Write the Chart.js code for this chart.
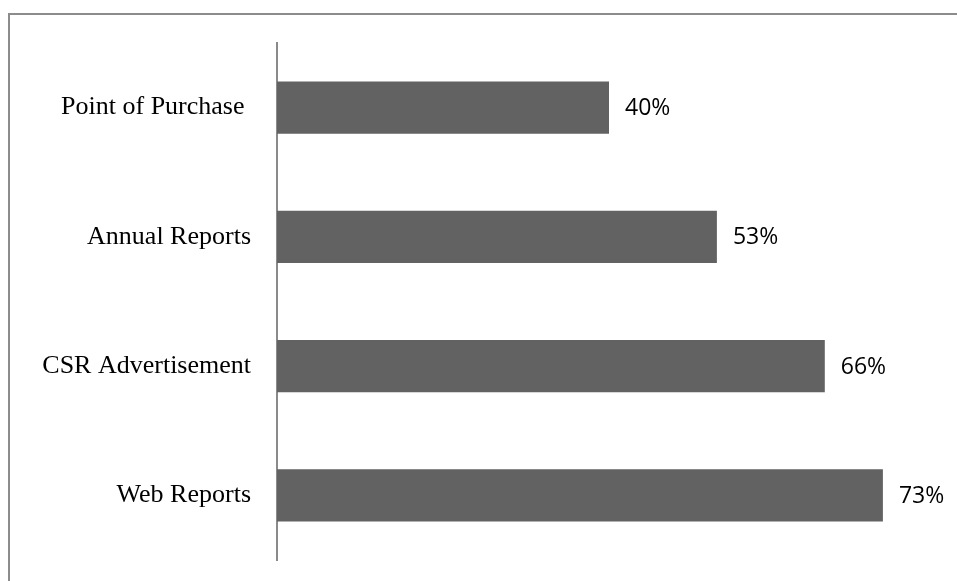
<!DOCTYPE html>
<html>
<head>
<meta charset="utf-8">
<script src="https://cdn.jsdelivr.net/npm/chart.js@4/dist/chart.umd.min.js"></script>
<style>
  html, body { margin: 0; padding: 0; background: #fff; }
  #wrap { width: 957px; height: 581px; }
</style>
</head>
<body>
<div id="wrap"><canvas id="barChart"></canvas></div>
<script>
const categories = ["Point of Purchase ", "Annual Reports", "CSR Advertisement", "Web Reports"];
const values = [40, 53, 66, 73];

// frame around the chart + value labels at bar ends
const framePlugin = {
  id: "frame",
  beforeDraw(chart) {
    const ctx = chart.ctx;
    ctx.save();
    ctx.strokeStyle = "#8c8c8c";
    ctx.lineWidth = 2;
    ctx.strokeRect(9, 14, 1000, 1000);
    ctx.restore();
  }
};

const valueLabels = {
  id: "valueLabels",
  afterDatasetsDraw(chart) {
    const ctx = chart.ctx;
    const meta = chart.getDatasetMeta(0);
    ctx.save();
    ctx.font = "23px 'Open Sans'";
    ctx.fillStyle = "#000";
    ctx.textAlign = "left";
    ctx.textBaseline = "middle";
    meta.data.forEach((bar, i) => {
      ctx.fillText(values[i] + "%", bar.x + 16, bar.y + 1);
    });
    ctx.restore();
  }
};

const CHART = document.getElementById("barChart");

let barChart = new Chart(CHART, {
  type: "bar",
  data: {
    labels: categories,
    datasets: [{
      data: values,
      backgroundColor: "#626262",
      borderWidth: 0,
      categoryPercentage: 1,
      barPercentage: 0.405
    }]
  },
  options: {
    indexAxis: "y",
    responsive: true,
    maintainAspectRatio: false,
    animation: false,
    layout: { padding: { top: 43, bottom: 21, right: 16, left: 0 } },
    plugins: {
      legend: { display: false },
      tooltip: { enabled: false }
    },
    scales: {
      x: { display: false, min: 0, max: 80 },
      y: {
        grid: { display: false, drawTicks: false },
        border: { display: true, color: "#8a8a8a", width: 2 },
        ticks: {
          color: "#000",
          padding: 26,
          font: { family: "'Liberation Serif', 'Times New Roman', serif", size: 26 }
        },
        afterFit(scale) {
          scale.width = 277;
          scale.paddingTop = 0;
          scale.paddingBottom = 0;
        }
      }
    }
  },
  plugins: [framePlugin, valueLabels]
});
</script>
</body>
</html>
